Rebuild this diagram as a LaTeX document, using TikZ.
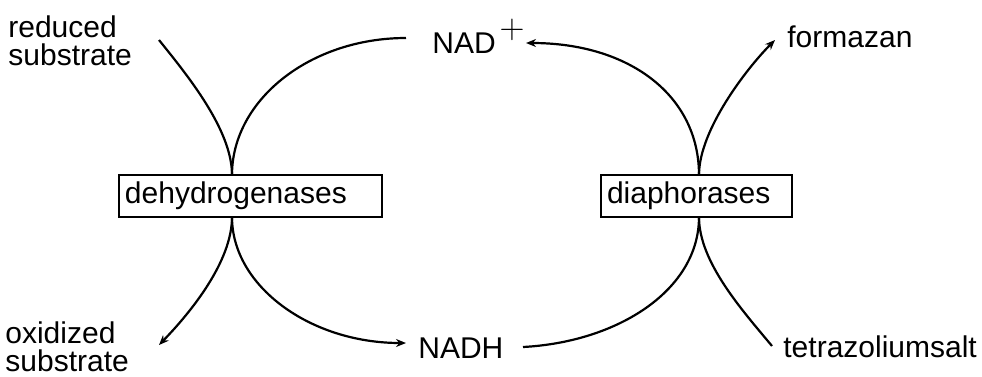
\documentclass[tikz,border=0pt]{standalone}
\usepackage{fontspec}
\setmainfont{Liberation Sans}
\usetikzlibrary{arrows.meta,calc}
\begin{document}
\begin{tikzpicture}[x=0.5pt,y=-0.5pt,
  lbl/.style={inner sep=0pt, font=\fontsize{15}{14}\selectfont, align=left},
  enzyme/.style={draw, line width=0.7pt, inner xsep=3pt, inner ysep=0pt,
    outer sep=0pt, minimum height=21pt, align=left,
    font=\fontsize{15}{14}\selectfont},
  flow/.style={line width=1.1pt},
  flowarr/.style={flow, -{Stealth[length=5pt,width=4pt]}}]
\useasboundingbox (0,0) rectangle (982,376);

% labels (base anchor of a two-line label sits on its last line)
\node[lbl, anchor=base west] (red) at (8,65) {reduced\\substrate};
\node[lbl, anchor=base west] (ox) at (5,371) {oxidized\\substrate};
\node[lbl, anchor=base west] (nad) at (432,53)
  {NAD\kern2pt\raisebox{7.25pt}{\fontsize{18}{18}\selectfont$+$}};
\node[lbl, anchor=base west] (nadh) at (418,358) {NADH};
\node[lbl, anchor=base west] (form) at (787,47) {formazan};
\node[lbl, anchor=base west] (tet) at (783,357) {tetrazoliumsalt};

% enzyme boxes
\node[enzyme, text width=125.5pt] (dh) at (250.5,196) {dehydrogenases};
\node[enzyme, text width=89.5pt] (dp) at (696.5,196) {diaphorases};

% where the curves touch the boxes
\coordinate (dhT) at ($(dh.north)+(-18.5,0)$);
\coordinate (dhB) at ($(dh.south)+(-18.5,0)$);
\coordinate (dpT) at ($(dp.north)+(2.5,0)$);
\coordinate (dpB) at ($(dp.south)+(2.5,0)$);

% free ends next to the labels
\coordinate (redE) at (159,40);
\coordinate (oxE) at (159,345);
\coordinate (nadL) at (406,38);
\coordinate (nadR) at (526,43);
\coordinate (nadhL) at (406,343);
\coordinate (nadhR) at (523,347);
\coordinate (formE) at (775,40);
\coordinate (tetE) at (772,346);

% dehydrogenase reaction
\draw[flow] (redE) .. controls (188,76) and (232,130) .. (dhT);
\draw[flowarr] (dhB) .. controls (232,262) and (190,313) .. (oxE);
\draw[flow] (nadL) .. controls (310,38) and (232,100) .. (dhT);
\draw[flowarr] (dhB) .. controls (232,286) and (310,343) .. (nadhL);

% diaphorase reaction
\draw[flow] (nadhR) .. controls (618,342) and (699,290) .. (dpB);
\draw[flowarr] (dpT) .. controls (699,96) and (630,43) .. (nadR);
\draw[flow] (tetE) .. controls (742,310) and (699,262) .. (dpB);
\draw[flowarr] (dpT) .. controls (699,130) and (747,68) .. (formE);
\end{tikzpicture}
\end{document}
